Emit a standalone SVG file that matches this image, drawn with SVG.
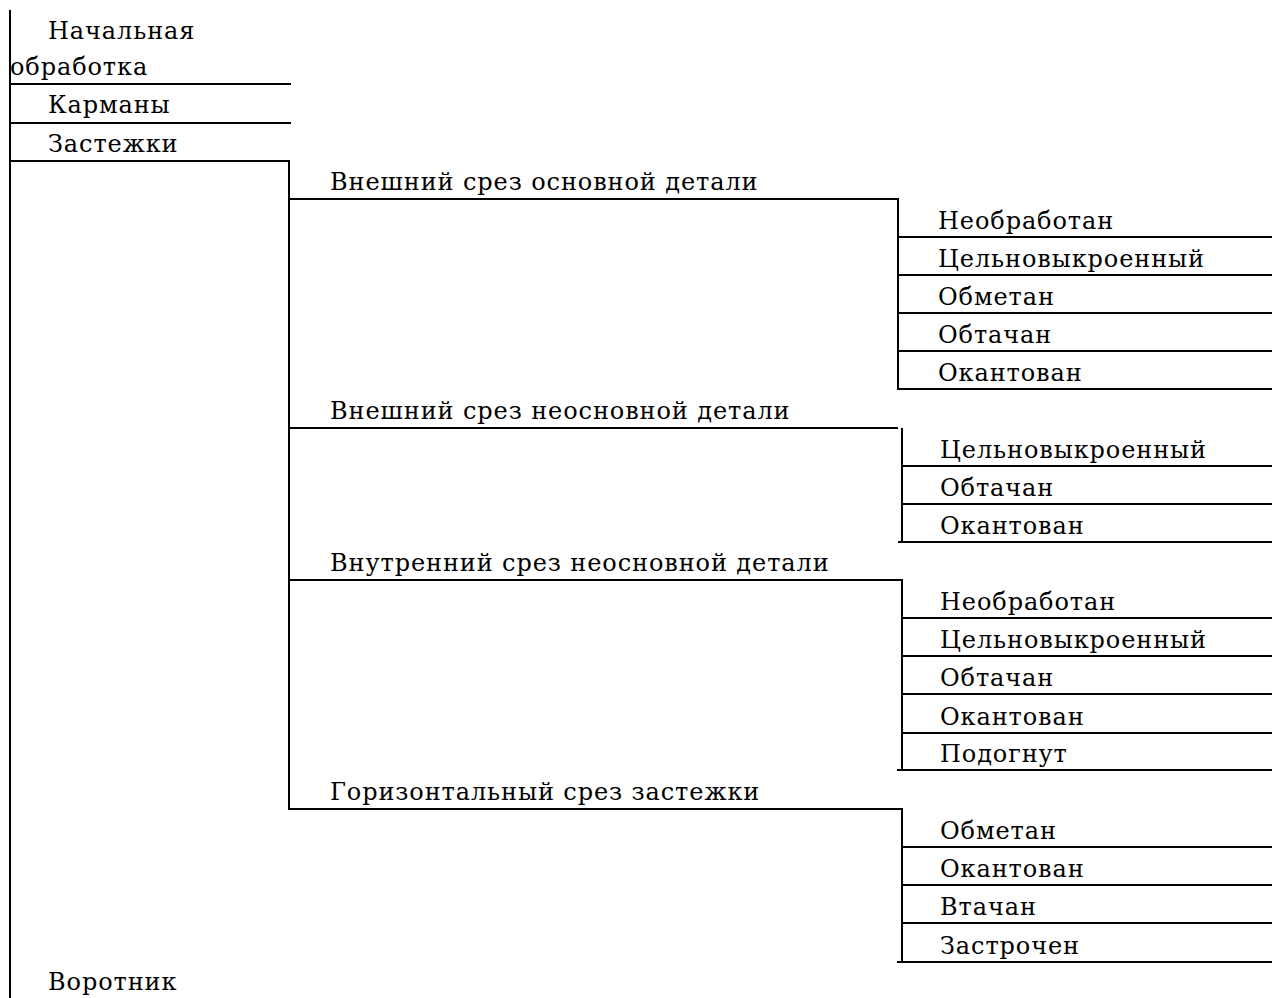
<svg xmlns="http://www.w3.org/2000/svg" width="1272" height="998" viewBox="0 0 1272 998">
<style>
text{font-family:'DejaVu Serif',serif;font-size:24px;letter-spacing:0.9px;fill:#000}
line{stroke:#000;stroke-width:2;fill:none}
</style>
<rect width="1272" height="998" fill="#fff"/>
<g id="connectors">
<line x1="10" y1="10" x2="10" y2="998"/>
<line x1="10" y1="84" x2="291" y2="84"/>
<line x1="10" y1="123" x2="291" y2="123"/>
<line x1="10" y1="161" x2="290" y2="161"/>
<line x1="289" y1="160" x2="289" y2="810"/>
<line x1="289" y1="199" x2="898" y2="199"/>
<line x1="898" y1="198" x2="898" y2="389"/>
<line x1="898" y1="237" x2="1272" y2="237"/>
<line x1="898" y1="275" x2="1272" y2="275"/>
<line x1="898" y1="313" x2="1272" y2="313"/>
<line x1="898" y1="351" x2="1272" y2="351"/>
<line x1="897" y1="389" x2="1272" y2="389"/>
<line x1="289" y1="428" x2="898" y2="428"/>
<line x1="902" y1="428" x2="902" y2="542"/>
<line x1="902" y1="466" x2="1272" y2="466"/>
<line x1="902" y1="504" x2="1272" y2="504"/>
<line x1="898" y1="542" x2="1272" y2="542"/>
<line x1="289" y1="580" x2="902" y2="580"/>
<line x1="902" y1="579" x2="902" y2="770"/>
<line x1="902" y1="618" x2="1272" y2="618"/>
<line x1="902" y1="656" x2="1272" y2="656"/>
<line x1="902" y1="694" x2="1272" y2="694"/>
<line x1="902" y1="733" x2="1272" y2="733"/>
<line x1="897" y1="770" x2="1272" y2="770"/>
<line x1="289" y1="809" x2="902" y2="809"/>
<line x1="902" y1="808" x2="902" y2="962"/>
<line x1="902" y1="847" x2="1272" y2="847"/>
<line x1="902" y1="885" x2="1272" y2="885"/>
<line x1="902" y1="923" x2="1272" y2="923"/>
<line x1="897" y1="962" x2="1272" y2="962"/>
</g>
<g id="n-nachalnaya"><text x="48" y="39">Начальная</text><text x="10" y="75">обработка</text></g>
<g id="n-karmany"><text x="48" y="113">Карманы</text></g>
<g id="n-zastezhki"><text x="48" y="152">Застежки</text></g>
<g id="n-vorotnik"><text x="48" y="990">Воротник</text></g>
<g id="n-g1"><text x="330" y="190">Внешний срез основной детали</text></g>
<g id="n-g1-1"><text x="938" y="229">Необработан</text></g>
<g id="n-g1-2"><text x="938" y="267">Цельновыкроенный</text></g>
<g id="n-g1-3"><text x="938" y="305">Обметан</text></g>
<g id="n-g1-4"><text x="938" y="343">Обтачан</text></g>
<g id="n-g1-5"><text x="938" y="381">Окантован</text></g>
<g id="n-g2"><text x="330" y="419">Внешний срез неосновной детали</text></g>
<g id="n-g2-1"><text x="940" y="458">Цельновыкроенный</text></g>
<g id="n-g2-2"><text x="940" y="496">Обтачан</text></g>
<g id="n-g2-3"><text x="940" y="534">Окантован</text></g>
<g id="n-g3"><text x="330" y="571">Внутренний срез неосновной детали</text></g>
<g id="n-g3-1"><text x="940" y="610">Необработан</text></g>
<g id="n-g3-2"><text x="940" y="648">Цельновыкроенный</text></g>
<g id="n-g3-3"><text x="940" y="686">Обтачан</text></g>
<g id="n-g3-4"><text x="940" y="725">Окантован</text></g>
<g id="n-g3-5"><text x="940" y="762">Подогнут</text></g>
<g id="n-g4"><text x="330" y="800">Горизонтальный срез застежки</text></g>
<g id="n-g4-1"><text x="940" y="839">Обметан</text></g>
<g id="n-g4-2"><text x="940" y="877">Окантован</text></g>
<g id="n-g4-3"><text x="940" y="915">Втачан</text></g>
<g id="n-g4-4"><text x="940" y="954">Застрочен</text></g>
</svg>
